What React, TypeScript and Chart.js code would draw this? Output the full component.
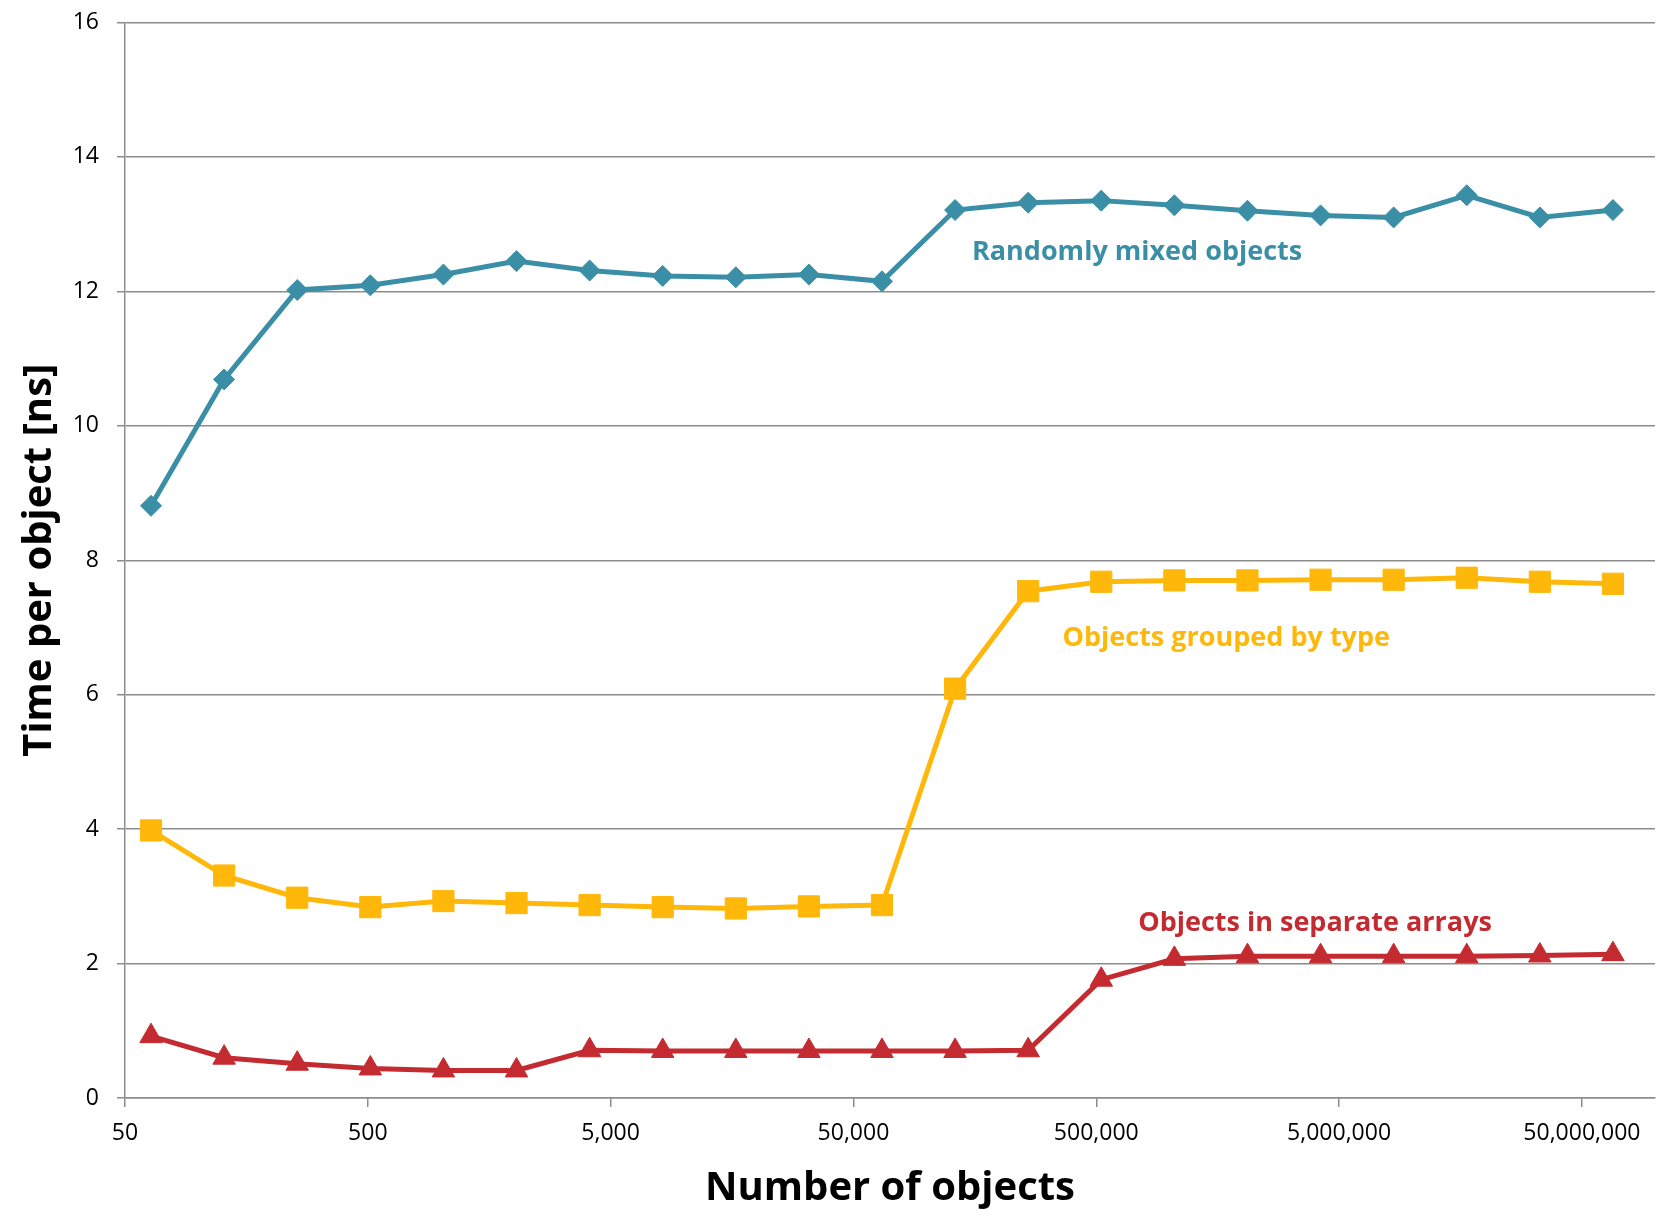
import React, { useEffect, useRef } from "react";
import { Chart, registerables } from "chart.js";

Chart.register(...registerables);

// Number of objects (x, log scale)
const objectCounts = [
  64, 128, 256, 512, 1024, 2048, 4096, 8192, 16384, 32768, 65536, 131072,
  262144, 524288, 1048576, 2097152, 4194304, 8388608, 16777216, 33554432,
  67108864,
];

// Time per object [ns]
const randomlyMixed = [
  8.81, 10.69, 12.02, 12.09, 12.25, 12.45, 12.31, 12.23, 12.21, 12.25, 12.15,
  13.21, 13.32, 13.35, 13.28, 13.2, 13.13, 13.1, 13.43, 13.1, 13.21,
];
const groupedByType = [
  3.98, 3.31, 2.98, 2.84, 2.93, 2.9, 2.87, 2.84, 2.82, 2.85, 2.87, 6.09, 7.54,
  7.68, 7.7, 7.7, 7.71, 7.71, 7.74, 7.68, 7.65,
];
const separateArrays = [
  0.92, 0.6, 0.51, 0.44, 0.41, 0.41, 0.71, 0.7, 0.7, 0.7, 0.7, 0.7, 0.71, 1.76,
  2.07, 2.11, 2.11, 2.11, 2.11, 2.12, 2.14,
];

const seriesNames = [
  "Randomly mixed objects",
  "Objects grouped by type",
  "Objects in separate arrays",
];
const seriesColors = ["#3A8FA6", "#FFB80A", "#C42B31"];

// x tick labels
const xTickValues = [50, 500, 5000, 50000, 500000, 5000000, 50000000];
const yTickValues = [0, 2, 4, 6, 8, 10, 12, 14, 16];

// in-chart series labels (data coordinates: x = objects, y = ns at baseline)
const labelX = [153800, 363000, 744000];
const labelY = [12.47, 6.73, 2.48];

const FONT = "'Open Sans', 'Noto Sans', sans-serif";
const GRID = "#8c8c8c";

const seriesLabelPlugin = {
  id: "seriesLabels",
  afterDatasetsDraw(chart: any) {
    const { ctx, scales } = chart;
    ctx.save();
    ctx.font = `bold 27px ${FONT}`;
    ctx.textAlign = "left";
    ctx.textBaseline = "alphabetic";
    for (let i = 0; i < seriesNames.length; i++) {
      ctx.fillStyle = seriesColors[i];
      ctx.fillText(
        seriesNames[i],
        scales.x.getPixelForValue(labelX[i]),
        scales.y.getPixelForValue(labelY[i])
      );
    }
    ctx.restore();
  },
};

export default function App() {
  const ref = useRef<HTMLCanvasElement | null>(null);

  useEffect(() => {
    if (!ref.current) return;
    document.body.style.margin = "0";
    const mk = (
      i: number,
      values: number[],
      style: string,
      radius: number
    ) => ({
      label: seriesNames[i],
      data: objectCounts.map((x, k) => ({ x, y: values[k] })),
      borderColor: seriesColors[i],
      backgroundColor: seriesColors[i],
      pointBackgroundColor: seriesColors[i],
      pointBorderColor: seriesColors[i],
      pointStyle: style,
      pointRadius: radius,
      pointBorderWidth: 1,
      borderWidth: 5,
      tension: 0,
      fill: false,
    });

    const chart = new Chart(ref.current, {
      type: "line",
      data: {
        datasets: [
          mk(0, randomlyMixed, "rectRot", 10.5),
          mk(1, groupedByType, "rect", 15),
          mk(2, separateArrays, "triangle", 13),
        ],
      },
      options: {
        animation: false,
        responsive: false,
        devicePixelRatio: 1,
        layout: { padding: { top: 22.5, right: 11, left: 0, bottom: 0 } },
        plugins: {
          legend: { display: false },
          tooltip: { enabled: false },
        },
        scales: {
          x: {
            type: "logarithmic",
            min: 50,
            max: 100000000,
            afterBuildTicks: (scale: any) => {
              scale.ticks = xTickValues.map((v) => ({ value: v }));
            },
            afterFit: (scale: any) => {
              scale.height = 120;
              scale.paddingLeft = 0;
              scale.paddingRight = 0;
            },
            ticks: {
              autoSkip: false,
              maxRotation: 0,
              padding: 13,
              color: "#000",
              font: { family: FONT, size: 23 },
              callback: (v: any) => Number(v).toLocaleString("en-US"),
            },
            grid: {
              display: true,
              drawOnChartArea: false,
              drawTicks: true,
              tickLength: 9,
              color: GRID,
              lineWidth: 1.5,
            },
            border: { display: true, color: GRID, width: 1.5 },
            title: {
              display: true,
              text: "Number of objects",
              color: "#000",
              font: { family: FONT, size: 40, weight: "bold" },
              padding: { top: 0, bottom: 5 },
            },
          },
          y: {
            type: "linear",
            min: 0,
            max: 16,
            afterBuildTicks: (scale: any) => {
              scale.ticks = yTickValues.map((v) => ({ value: v }));
            },
            afterFit: (scale: any) => {
              scale.width = 125;
              scale.paddingTop = 0;
              scale.paddingBottom = 0;
            },
            ticks: {
              padding: 18,
              color: "#000",
              font: { family: FONT, size: 23 },
            },
            grid: {
              color: GRID,
              lineWidth: 1.5,
              drawTicks: true,
              tickLength: 8,
            },
            border: { display: true, color: GRID, width: 1.5 },
            title: {
              display: true,
              text: "Time per object [ns]",
              color: "#000",
              font: { family: FONT, size: 40, weight: "bold" },
              padding: { top: 16, bottom: 0 },
            },
          },
        },
      } as any,
      plugins: [seriesLabelPlugin],
    });
    return () => chart.destroy();
  }, []);

  return (
    <div style={{ position: "absolute", left: 0, top: 0, width: 1671, height: 1218, background: "#fff" }}>
      <canvas ref={ref} width={1671} height={1218} style={{ display: "block" }} />
    </div>
  );
}
